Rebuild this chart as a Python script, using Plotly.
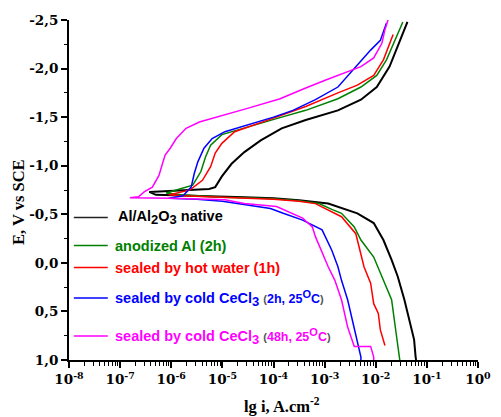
import numpy as np
import plotly.graph_objects as go

# ---- data: (lg i, E); cathodic branch then anodic branch ----
lg_black = [-1.38, -1.54, -1.73, -1.98, -2.29, -2.74, -3.37, -3.84, -4.25, -4.57, -4.82, -5.01, -5.14, -5.26, -5.77, -6.43,
            -6.30, -5.50, -4.57, -4.00, -3.50, -2.93, -2.61, -2.36, -2.04, -1.85, -1.69, -1.57, -1.44, -1.35, -1.25, -1.22, -1.21]
E_black = [-2.48, -2.26, -2.02, -1.81, -1.68, -1.57, -1.47, -1.385, -1.26, -1.14, -1.02, -0.89, -0.78, -0.76, -0.75, -0.73,
           -0.70, -0.685, -0.675, -0.665, -0.645, -0.61, -0.55, -0.51, -0.41, -0.235, -0.03, 0.14, 0.38, 0.59, 0.79, 0.97, 1.0]

lg_green = [-1.47, -1.63, -1.79, -1.98, -2.29, -2.74, -3.37, -3.84, -4.51, -5.01, -5.23, -5.33, -5.42, -5.58, -5.90, -6.10,
            -5.80, -5.00, -4.57, -4.00, -3.50, -3.11, -2.86, -2.67, -2.42, -2.29, -2.04, -1.85, -1.69, -1.60, -1.54, -1.53]
E_green = [-2.48, -2.29, -2.09, -1.93, -1.81, -1.69, -1.57, -1.50, -1.40, -1.32, -1.21, -1.09, -0.94, -0.80, -0.75, -0.72,
           -0.70, -0.675, -0.67, -0.66, -0.64, -0.61, -0.55, -0.51, -0.37, -0.235, -0.06, 0.18, 0.38, 0.73, 0.97, 1.0]

lg_red = [-1.66, -1.73, -1.85, -2.04, -2.36, -2.74, -3.37, -4.00, -4.38, -4.76, -5.01, -5.14, -5.23, -5.39, -5.64, -6.05,
          -5.80, -4.95, -4.00, -3.50, -3.18, -2.67, -2.39, -2.23, -2.10, -2.04, -1.95, -1.91, -1.82]
E_red = [-2.35, -2.26, -2.09, -1.93, -1.83, -1.75, -1.61, -1.49, -1.42, -1.35, -1.23, -1.13, -0.99, -0.85, -0.75, -0.70,
         -0.69, -0.67, -0.655, -0.635, -0.61, -0.475, -0.30, 0.04, 0.21, 0.42, 0.52, 0.69, 0.85]

lg_blue = [-1.79, -1.91, -2.10, -2.36, -2.74, -3.18, -3.62, -4.00, -4.51, -4.95, -5.20, -5.36, -5.48, -5.55, -5.61, -5.77,
           -6.05, -5.50, -5.00, -4.57, -4.06, -3.81, -3.43, -3.05, -2.86, -2.74, -2.67, -2.55, -2.42, -2.33, -2.29, -2.29]
E_blue = [-2.47, -2.29, -2.19, -2.04, -1.81, -1.68, -1.57, -1.50, -1.42, -1.35, -1.28, -1.18, -1.04, -0.92, -0.78, -0.69,
          -0.665, -0.655, -0.635, -0.60, -0.56, -0.51, -0.44, -0.34, -0.13, 0.04, 0.18, 0.38, 0.66, 0.86, 0.97, 1.0]

lg_mag = [-1.76, -1.82, -1.88, -2.04, -2.29, -2.55, -2.99, -3.37, -3.87, -4.51, -5.14, -5.45, -5.71, -5.90, -6.02, -6.12,
          -6.18, -6.24, -6.37, -6.53, -6.64, -6.81,
          -6.00, -4.95, -4.57, -3.94, -3.43, -3.24, -3.18, -3.05, -2.93, -2.80, -2.67, -2.55, -2.42, -2.10, -2.04, -2.04]
E_mag = [-2.50, -2.40, -2.26, -2.11, -2.02, -1.97, -1.88, -1.80, -1.69, -1.59, -1.50, -1.45, -1.385, -1.28, -1.18, -1.11,
         -1.007, -0.90, -0.78, -0.73, -0.68, -0.67,
         -0.665, -0.65, -0.61, -0.58, -0.46, -0.37, -0.27, -0.10, 0.04, 0.18, 0.38, 0.66, 0.86, 0.86, 0.97, 1.0]

series_names = ["Al/Al2O3 native", "anodized Al (2h)", "sealed by hot water (1h)",
                "sealed by cold CeCl3 (2h, 25°C)", "sealed by cold CeCl3 (48h, 25°C)"]

y_tickvals = [-2.5, -2.0, -1.5, -1.0, -0.5, 0.0, 0.5, 1.0]
y_ticktext = ["-2,5", "-2,0", "-1,5", "-1,0", "-0,5", "0,0", "0,5", "1,0"]
x_tickvals = [1e-8, 1e-7, 1e-6, 1e-5, 1e-4, 1e-3, 1e-2, 1e-1, 1e0]
x_ticktext = ["10<sup>-8</sup>", "10<sup>-7</sup>", "10<sup>-6</sup>", "10<sup>-5</sup>", "10<sup>-4</sup>",
              "10<sup>-3</sup>", "10<sup>-2</sup>", "10<sup>-1</sup>", "10<sup>0</sup>"]

colors = ["#000000", "#008000", "#ff0000", "#0000ff", "#ff00ff"]
widths = [2.0, 1.5, 1.5, 1.5, 1.5]
curves = [(lg_black, E_black), (lg_green, E_green), (lg_red, E_red), (lg_blue, E_blue), (lg_mag, E_mag)]

fig = go.Figure()
for (lg, E), name, c, w in zip(curves, series_names, colors, widths):
    fig.add_trace(go.Scatter(x=np.power(10.0, np.array(lg)), y=E, mode="lines", name=name,
                             line=dict(color=c, width=w), showlegend=False))

serif = "Liberation Serif, Times New Roman, serif"
tickserif = "DejaVu Serif, serif"
sans = "Liberation Sans, Arial, sans-serif"

fig.update_layout(
    width=501, height=417,
    margin=dict(l=69, r=10, t=20, b=57),
    paper_bgcolor="white", plot_bgcolor="white",
    xaxis=dict(type="log", range=[-8, 0], tickvals=x_tickvals, ticktext=x_ticktext,
               showline=True, linecolor="black", linewidth=2, mirror=False,
               ticks="outside", ticklen=6, tickwidth=1.5, tickcolor="black",
               minor=dict(ticks="outside", ticklen=3.5, tickwidth=1, tickcolor="black", dtick="D1", showgrid=False),
               showgrid=False, zeroline=False, ticklabeloverflow="allow",
               tickfont=dict(family=tickserif, size=13.5, color="black", weight="bold")),
    yaxis=dict(range=[1.0, -2.5], tickvals=y_tickvals, ticktext=y_ticktext,
               showline=True, linecolor="black", linewidth=2, mirror=False,
               ticks="outside", ticklen=6, tickwidth=1.5, tickcolor="black",
               minor=dict(ticks="outside", ticklen=3.5, tickwidth=1, tickcolor="black", dtick=0.25, showgrid=False),
               showgrid=False, zeroline=False, ticklabelstandoff=0,
               tickfont=dict(family=tickserif, size=13.5, color="black", weight="bold")),
)

# axis titles
fig.add_annotation(xref="paper", yref="paper", x=-0.122, y=0.465, xanchor="center", yanchor="middle",
                   text="<b>E, V vs SCE</b>", textangle=-90,
                   showarrow=False, font=dict(family=serif, size=16.5, color="black"))
fig.add_annotation(xref="paper", yref="paper", x=0.52, y=-0.168, yanchor="bottom", borderpad=0,
                   text="<b>lg i, A.cm<sup>-2</sup></b>", showarrow=False,
                   font=dict(family=serif, size=16.5, color="black"))

# legend (manual)
gray = '<span style="color:#555555;font-size:11px">'
sub = lambda s: '<sub><span style="font-size:13px">' + s + '</span></sub>'
sup = lambda s: '<sup><span style="font-size:11px">' + s + '</span></sup>'
leg_texts = [
    "<b>Al/Al" + sub("2") + "O" + sub("3") + " native</b>",
    "<b>anodized Al (2h)</b>",
    "<b>sealed by hot water (1h)</b>",
    "<b>sealed by cold CeCl" + sub("3") + " " + gray + "(</span><span style=\"font-size:12.5px\">2h, 25" + sup("O") + "C</span>" + gray + ")</span></b>",
    "<b>sealed by cold CeCl" + sub("3") + " " + gray + "(</span><span style=\"font-size:12.5px\">48h, 25" + sup("O") + "C</span>" + gray + ")</span></b>",
]
leg_y_px = [217.5, 245.5, 267.5, 298.0, 336.0]
leg_text_x = [118, 114, 114, 114, 114]
H = 340.0
for t, ypx, tx, c in zip(leg_texts, leg_y_px, leg_text_x, colors):
    yp = 1 - (ypx - 20) / H
    x0 = (74 - 69) / 422.0
    x1 = (109 - 69) / 422.0
    fig.add_shape(type="line", xref="paper", yref="paper", x0=x0, x1=x1, y0=yp, y1=yp,
                  line=dict(color=c if c != "#000000" else "#222222", width=1.5))
    fig.add_annotation(xref="paper", yref="paper", x=(tx - 69) / 422.0, y=yp, xanchor="left", yanchor="middle",
                       text=t, showarrow=False, font=dict(family=sans, size=14.5, color=c))

fig.write_html("out.html", config={"displayModeBar": False},
               post_script="document.body.style.margin='0';document.body.style.overflow='hidden';")
